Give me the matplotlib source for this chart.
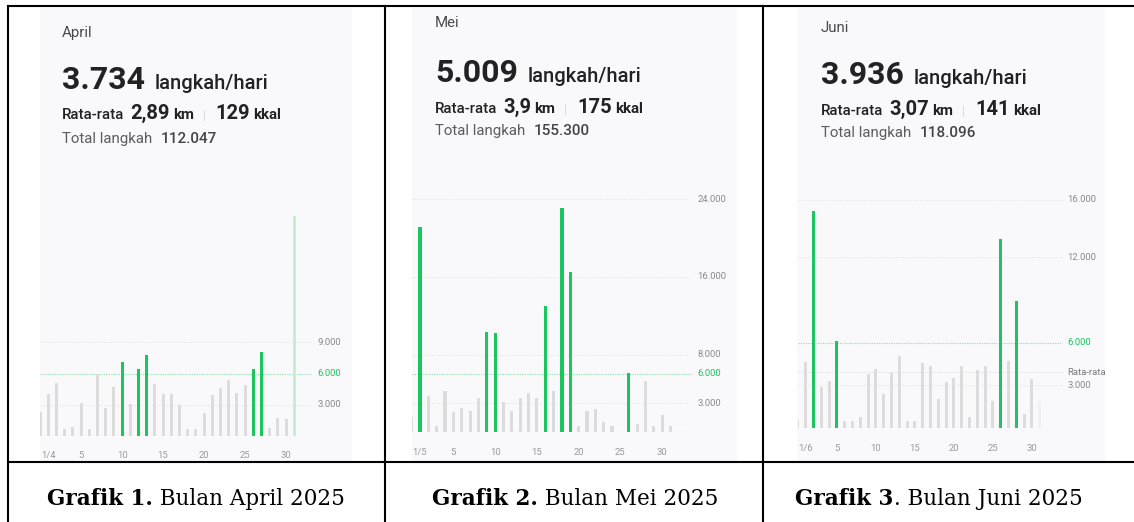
import matplotlib
matplotlib.use('Agg')
import numpy as np
import matplotlib.pyplot as plt
from matplotlib.patches import Rectangle
from matplotlib.lines import Line2D

W, H = 1134, 522

#----------------------------------------------------------------
# daily steps
#----------------------------------------------------------------
mar31_steps = 2300
apr_steps = [4000, 5100, 640, 900, 3200, 640, 5950, 2660, 4700, 7080,
             3080, 6440, 7760, 5000, 4070, 4040, 3000, 640, 640, 2200,
             3970, 4650, 5350, 4170, 4870, 6440, 8100, 740, 1700, 1600]
may_steps = [21100, 3750, 690, 4230, 2100, 2540, 2160, 3500, 10300, 10200,
             3130, 2200, 3570, 4020, 3570, 13000, 4300, 23100, 16500, 650,
             2160, 2440, 1100, 650, 0, 6050, 820, 5300, 650, 1750, 600]
jun_steps = [4670, 15200, 2920, 3320, 6120, 510, 510, 800, 3800, 4180,
             2430, 3880, 5090, 510, 510, 4560, 4390, 2030, 3270, 3550,
             4370, 820, 4090, 4370, 1920, 13250, 4720, 8930, 1030, 3480]
jul1_steps = 1900

months = ['April', 'Mei', 'Juni']
avg_steps = ['3.734', '5.009', '3.936']
avg_km = ['2,89', '3,9', '3,07']
avg_kcal = ['129', '175', '141']
total_steps = ['112.047', '155.300', '118.096']
captions = [('Grafik 1.', ' Bulan April 2025'),
            ('Grafik 2.', ' Bulan Mei 2025'),
            ('Grafik 3', '. Bulan Juni 2025')]

tick_days = [1, 5, 10, 15, 20, 25, 30]
apr_ticks = ['1/4', '5', '10', '15', '20', '25', '30']
may_ticks = ['1/5', '5', '10', '15', '20', '25', '30']
jun_ticks = ['1/6', '5', '10', '15', '20', '25', '30']

apr_levels = [3000, 6000, 9000]
may_levels = [3000, 6000, 8000, 16000, 24000]
jun_levels = [3000, 6000, 12000, 16000]
jun_average = 3936
target = 6000

green = '#1cc65e'
grey = '#dcdcdc'
plt.rcParams['font.family'] = ['Roboto', 'DejaVu Sans']

fig = plt.figure(figsize=(W / 100, H / 100), dpi=100)
fig.patch.set_facecolor('white')
rend = fig.canvas.get_renderer()


def text_row(x, y, parts, center=None):
    # parts: (text, size, weight, colour, gap before in px); y = baseline px from top
    texts = []
    x0 = x
    for s, size, weight, col, gap, fam in parts:
        x += gap
        t = fig.text(x / W, 1 - y / H, s, fontsize=size, fontweight=weight,
                     color=col, va='baseline', ha='left', family=fam)
        x += t.get_window_extent(rend).width
        texts.append(t)
    if center is not None:
        shift = center - (x0 + x) / 2.0
        for t in texts:
            px, py = t.get_position()
            t.set_position((px + shift / W, py))
    return x


def fmt(v):
    return '{:,}'.format(v).replace(',', '.')


# panel geometry in pixels (from the top left of the picture)
panels = [
    dict(x0=40, x1=352, head_x=62, base_y=[37, 89, 119, 143],
         left=40, right=312, bottom=436, top=205, ppk=10.41,
         day1=48.3, step=8.2),
    dict(x0=412, x1=737, head_x=435, base_y=[27, 82, 113, 135],
         left=412, right=692, bottom=432.3, top=192, ppk=9.72,
         day1=420.0, step=8.35),
    dict(x0=797, x1=1105, head_x=821, base_y=[32, 84, 115, 137],
         left=798, right=1062, bottom=428.3, top=192, ppk=14.27,
         day1=805.7, step=7.8),
]

series = [
    ([mar31_steps] + apr_steps, may_steps[0], '#c6eed5', apr_ticks, apr_levels),
    ([apr_steps[-1]] + may_steps, None, None, may_ticks, may_levels),
    ([may_steps[-1]] + jun_steps, jul1_steps, '#f1f1f3', jun_ticks, jun_levels),
]

dark = '#222222'
for i, p in enumerate(panels):
    # screenshot background
    fig.add_artist(Rectangle((p['x0'] / W, 1 - 461 / H), (p['x1'] - p['x0']) / W,
                             (461 - 8) / H, transform=fig.transFigure,
                             facecolor='#f9f9fb', edgecolor='none', zorder=0))
    hx = p['head_x']
    by = p['base_y']
    text_row(hx, by[0], [(months[i], 10.8, 'normal', '#4a4a4a', 0, None)])
    text_row(hx, by[1], [(avg_steps[i], 23, 'bold', dark, 0, None),
                         ('langkah/hari', 14.5, 'medium', dark, 10, None)])
    text_row(hx, by[2], [('Rata-rata', 10.8, 'medium', dark, 0, None),
                         (avg_km[i], 14.5, 'bold', dark, 6, None),
                         ('km', 10.8, 'bold', dark, 3, None),
                         ('|', 9, 'normal', '#d6d6d6', 9, None),
                         (avg_kcal[i], 14.5, 'bold', dark, 10, None),
                         ('kkal', 10.8, 'bold', dark, 3, None)])
    text_row(hx, by[3], [('Total langkah', 10.8, 'normal', '#5c5c5c', 0, None),
                         (total_steps[i], 11, 'medium', '#444444', 8, None)])

    # bar chart
    vals, nxt, nxt_col, ticks, levels = series[i]
    ax = fig.add_axes([p['left'] / W, 1 - p['bottom'] / H,
                       (p['right'] - p['left']) / W, (p['bottom'] - p['top']) / H])
    ax.set_facecolor('none')
    ax.set_xlim(1 + (p['left'] - p['day1']) / p['step'],
                1 + (p['right'] - p['day1']) / p['step'])
    ax.set_ylim(0, (p['bottom'] - p['top']) / p['ppk'] * 1000)
    days = np.arange(len(vals))
    cols = [green if v >= target else grey for v in vals]
    ax.bar(days, vals, width=0.38, color=cols, zorder=3)
    if nxt is not None:
        ax.bar([len(vals)], [nxt], width=0.38, color=nxt_col, zorder=3)

    for lv in levels:
        if lv == target:
            ax.axhline(lv, color='#8fdcae', lw=0.8, ls=(0, (1, 1.2)), zorder=1)
            ax.text(1.02, lv, fmt(lv), transform=ax.get_yaxis_transform(),
                    fontsize=6.8, color=green, va='center', ha='left', clip_on=False)
        else:
            ax.axhline(lv, color='#e2e2e4', lw=0.7, ls=(0, (1, 1.5)), zorder=1)
            ax.text(1.02, lv, fmt(lv), transform=ax.get_yaxis_transform(),
                    fontsize=6.8, color='#8a8a8a', va='center', ha='left', clip_on=False)
    if i == 2:
        ax.axhline(jun_average, color='#dadadc', lw=0.7, ls=(0, (1, 1.5)), zorder=1)
        ax.text(1.02, jun_average, 'Rata-rata', transform=ax.get_yaxis_transform(),
                fontsize=6.8, color='#7a7a7a', va='center', ha='left', clip_on=False)
    ax.axhline(0, color='#dedede', lw=0.8, zorder=2)

    ax.set_xticks(tick_days)
    ax.set_xticklabels(ticks)
    ax.tick_params(axis='x', length=0, pad=11, labelsize=6.8, labelcolor='#9a9a9a')
    ax.set_yticks([])
    for s in ax.spines.values():
        s.set_visible(False)

#----------------------------------------------------------------
# table lines and captions
#----------------------------------------------------------------
def hline(y, x0, x1):
    fig.add_artist(Line2D([x0 / W, x1 / W], [1 - y / H, 1 - y / H],
                          transform=fig.transFigure, color='black', lw=1.5, zorder=5))


def vline(x, y0, y1):
    fig.add_artist(Line2D([x / W, x / W], [1 - y0 / H, 1 - y1 / H],
                          transform=fig.transFigure, color='black', lw=1.5, zorder=5))


hline(6, 8, W)
hline(462, 8, W)
vline(8, 6, H)
vline(385, 6, H)
vline(763, 6, H)

for cx, (bold, rest) in zip([196, 575, 939], captions):
    text_row(0, 505, [(bold, 15.5, 'bold', 'black', 0, 'DejaVu Serif'),
                      (rest, 15.5, 'normal', 'black', 0, 'DejaVu Serif')], center=cx)

plt.savefig('out.png', dpi=100)
